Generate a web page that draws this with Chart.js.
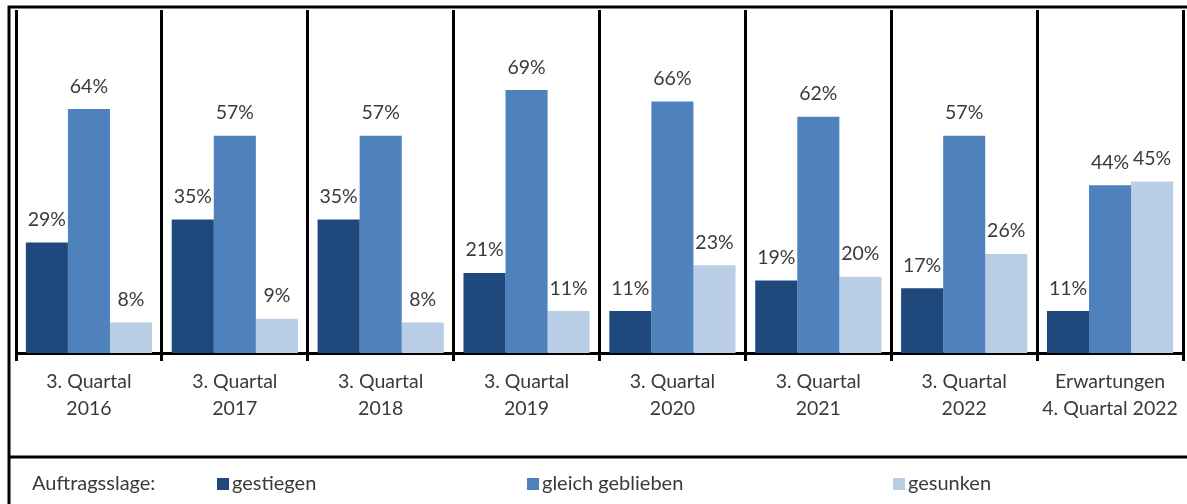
<!DOCTYPE html>
<html>
<head>
<meta charset="utf-8">
<script src="https://cdn.jsdelivr.net/npm/chart.js@4.4.0/dist/chart.umd.min.js"></script>
<style>
  html, body { margin: 0; padding: 0; background: #fff; }
  #wrap { width: 1187px; height: 504px; position: relative; }
</style>
</head>
<body>
<div id="wrap"><canvas id="myChart"></canvas></div>
<script>
// chart data
const categories = [
  ['3. Quartal', '2016'], ['3. Quartal', '2017'], ['3. Quartal', '2018'], ['3. Quartal', '2019'],
  ['3. Quartal', '2020'], ['3. Quartal', '2021'], ['3. Quartal', '2022'], ['Erwartungen', '4. Quartal 2022']
];
const seriesNames = ['gestiegen', 'gleich geblieben', 'gesunken'];
const gestiegen = [29, 35, 35, 21, 11, 19, 17, 11];
const gleichGeblieben = [64, 57, 57, 69, 66, 62, 57, 44];
const gesunken = [8, 9, 8, 11, 23, 20, 26, 45];
const legendTitle = 'Auftragsslage:';

const colors = ['#1f497d', '#4f81bd', '#b9cde5'];
const fontFam = 'Lato, "Open Sans", sans-serif';
const textColor = '#3a3a3a';

// labels above bars + frame + legend
const extras = {
  id: 'extras',
  afterDatasetsDraw(chart) {
    const ctx = chart.ctx;
    ctx.save();
    ctx.font = '19.5px ' + fontFam;
    ctx.fillStyle = textColor;
    ctx.textAlign = 'center';
    ctx.textBaseline = 'bottom';
    chart.data.datasets.forEach((ds, i) => {
      chart.getDatasetMeta(i).data.forEach((bar, j) => {
        ctx.fillText(ds.data[j] + '%', bar.x, bar.y - 13);
      });
    });
    ctx.restore();
  },
  afterDraw(chart) {
    const ctx = chart.ctx;
    ctx.save();
    ctx.strokeStyle = '#000';
    ctx.lineWidth = 3;
    // outer frame
    ctx.beginPath();
    ctx.moveTo(9, 510);
    ctx.lineTo(9, 7);
    ctx.lineTo(1187, 7);
    ctx.stroke();
    // separator above legend
    ctx.beginPath();
    ctx.moveTo(9, 457);
    ctx.lineTo(1187, 457);
    ctx.stroke();

    // legend
    ctx.font = '20px ' + fontFam;
    ctx.fillStyle = textColor;
    ctx.textBaseline = 'middle';
    ctx.textAlign = 'left';
    ctx.fillText(legendTitle, 32, 484);
    const lx = [217, 527, 893];
    seriesNames.forEach((name, i) => {
      ctx.fillStyle = colors[i];
      ctx.fillRect(lx[i], 478, 12, 12);
      ctx.fillStyle = textColor;
      ctx.fillText(name, lx[i] + 15, 484);
    });
    ctx.restore();
  }
};

const ctx = document.getElementById('myChart');
new Chart(ctx, {
  type: 'bar',
  data: {
    labels: categories,
    datasets: [
      { label: seriesNames[0], data: gestiegen, backgroundColor: colors[0] },
      { label: seriesNames[1], data: gleichGeblieben, backgroundColor: colors[1] },
      { label: seriesNames[2], data: gesunken, backgroundColor: colors[2] }
    ]
  },
  options: {
    responsive: true,
    maintainAspectRatio: false,
    animation: false,
    layout: { padding: { left: 16, top: 10, right: 4, bottom: 0 } },
    datasets: { bar: { categoryPercentage: 0.865, barPercentage: 1 } },
    plugins: { legend: { display: false }, tooltip: { enabled: false } },
    scales: {
      x: {
        grid: { color: '#000', lineWidth: 3, tickLength: 8, offset: true },
        border: { color: '#000', width: 3 },
        ticks: { color: textColor, font: { family: fontFam, size: 19.5, lineHeight: 1.35 }, padding: 8, maxRotation: 0 },
        afterFit(scale) { scale.height = 151; }
      },
      y: { display: false, min: 0, max: 90 }
    }
  },
  plugins: [extras]
});
</script>
</body>
</html>
